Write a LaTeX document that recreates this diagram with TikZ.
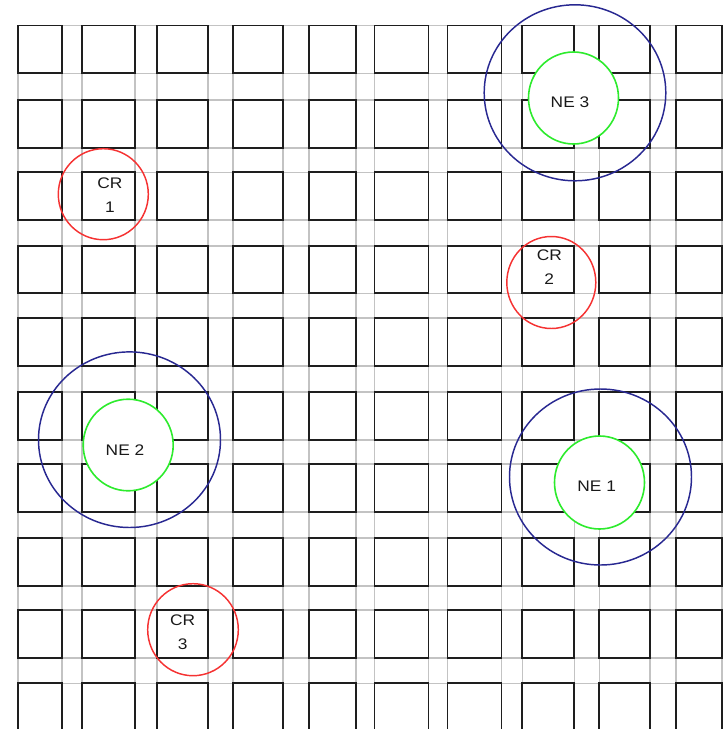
\documentclass[tikz,border=0pt]{standalone}
\usepackage{fontspec}
\setmainfont{Liberation Sans}[FakeStretch=1.13]
\definecolor{gridgray}{RGB}{195,195,195}
\definecolor{sqblack}{RGB}{30,30,30}
\definecolor{nenavy}{RGB}{40,40,145}
\definecolor{negreen}{RGB}{45,235,45}
\definecolor{crred}{RGB}{245,50,50}
\definecolor{txt}{RGB}{25,25,25}
\begin{document}
\begin{tikzpicture}[x=0.75pt,y=-0.75pt,
  gridline/.style={draw=gridgray,line width=1.2pt},
  cell/.style={draw=sqblack,line width=1.3pt},
  crring/.style={draw=crred,line width=1.1pt},
  nering/.style={draw=nenavy,line width=1.1pt},
  coverring/.style={draw=negreen,fill=white,line width=1.2pt},
  lbl/.style={text=txt,align=center,inner sep=0pt,font={\fontsize{11.5pt}{18pt}\selectfont}}]
\useasboundingbox (0,0) rectangle (728,729);
\clip (0,0) rectangle (728,729);
% grey guide lines
\foreach \xx in {18,62,82,135,157,208,233,283,309,356,374.5,428.5,447.5,501.5,522.3,574.3,599.3,650,676,721.7}
  \draw[gridline] (\xx,25.5) -- (\xx,735);
\foreach \yy in {25.5,73.3,100,147.7,172.3,220,245.7,293.3,317.7,366,391.7,440,464,511.7,537.7,586,610,658,683.3}
  \draw[gridline] (18,\yy) -- (721.7,\yy);
% black squares
\foreach \l/\r in {18/62,82/135,157/208,233/283,309/356,374.5/428.5,447.5/501.5,522.3/574.3,599.3/650,676/721.7}
  \foreach \t/\b in {25.5/73.3,100/147.7,172.3/220,245.7/293.3,317.7/366,391.7/440,464/511.7,537.7/586,610/658,683.3/732}
    \draw[cell] (\l,\t) rectangle (\r,\b);
% red rings
\draw[crring] (103.3,194.2) ellipse [x radius=45, y radius=45.5];
\draw[crring] (551.3,282.5) ellipse [x radius=44.5, y radius=46];
\draw[crring] (193,629.7) ellipse [x radius=45.3, y radius=46];
% blue rings
\draw[nering] (575,92.8) ellipse [x radius=90.8, y radius=88];
\draw[nering] (600.5,477) ellipse [x radius=91, y radius=88];
\draw[nering] (129.5,439.7) ellipse [x radius=91, y radius=87.8];
% green rings
\draw[coverring] (573.5,98) ellipse [x radius=45, y radius=46];
\draw[coverring] (599.5,482.5) ellipse [x radius=45, y radius=46.5];
\draw[coverring] (128.2,445) ellipse [x radius=45, y radius=45.8];
% labels
\node[lbl] (cr1) at (110,194.7) {CR\\1};
\node[lbl] (cr2) at (549.3,267.5) {CR\\2};
\node[lbl] (cr3) at (182.7,632) {CR\\3};
\node[lbl] (ne3) at (570,102.3) {NE 3};
\node[lbl] (ne1) at (596.7,486.7) {NE 1};
\node[lbl] (ne2) at (125,450) {NE 2};
\end{tikzpicture}
\end{document}
